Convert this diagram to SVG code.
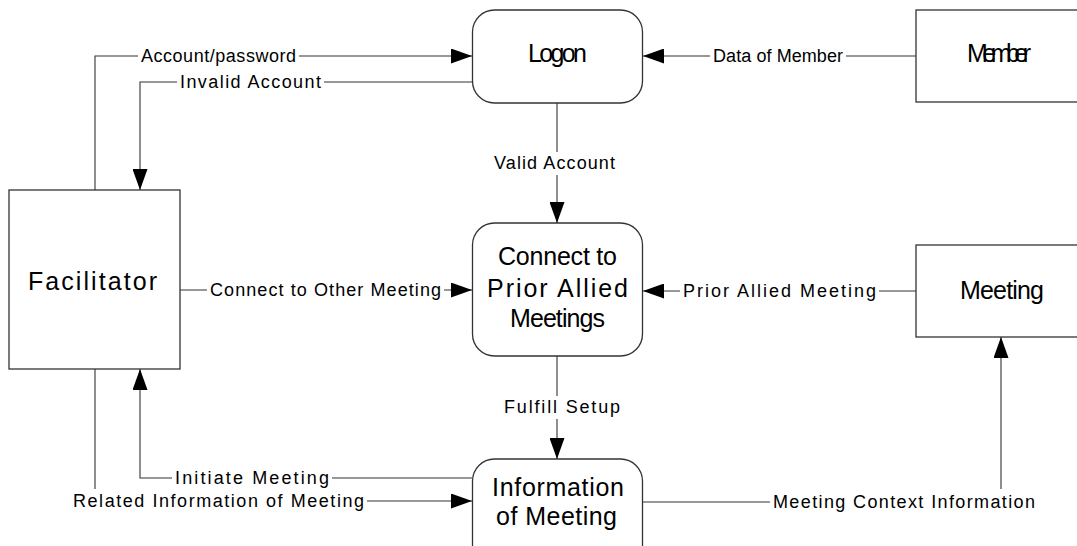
<svg xmlns="http://www.w3.org/2000/svg" width="1077" height="546" viewBox="0 0 1077 546">
<style>
.box{fill:#fff;stroke:#333;stroke-width:1.3}
.ln{fill:none;stroke:#333;stroke-width:1.1}
.lbl{font-family:"Liberation Sans",Arial,sans-serif;font-size:18px;fill:#000}
.nt{font-family:"Liberation Sans",Arial,sans-serif;font-size:25px;fill:#000}
.bg{fill:#fff}
</style>
<defs>
<marker id="ah" markerUnits="userSpaceOnUse" markerWidth="21" markerHeight="15" refX="21" refY="7.5" orient="auto">
<path d="M0,0 L21,7.5 L0,15 z" fill="#000"/>
</marker>
</defs>
<rect width="1077" height="546" fill="#fff"/>
<g id="connectors">
<path class="ln" d="M95,190 V56 H472" marker-end="url(#ah)"/>
<path class="ln" d="M472,82 H140 V190" marker-end="url(#ah)"/>
<path class="ln" d="M916,56 H643" marker-end="url(#ah)"/>
<path class="ln" d="M557,103 V223" marker-end="url(#ah)"/>
<path class="ln" d="M180,290 H472" marker-end="url(#ah)"/>
<path class="ln" d="M916,291 H643" marker-end="url(#ah)"/>
<path class="ln" d="M557,356 V459" marker-end="url(#ah)"/>
<path class="ln" d="M472,478 H140 V369" marker-end="url(#ah)"/>
<path class="ln" d="M95,369 V501 H472" marker-end="url(#ah)"/>
<path class="ln" d="M643,502 H1001 V337" marker-end="url(#ah)"/>
<rect class="bg" x="138" y="46" width="161" height="21"/>
<text class="lbl" x="141" y="62" textLength="155" lengthAdjust="spacing">Account/password</text>
<rect class="bg" x="177" y="72" width="147" height="21"/>
<text class="lbl" x="180" y="88" textLength="141" lengthAdjust="spacing">Invalid Account</text>
<rect class="bg" x="710" y="46" width="136" height="21"/>
<text class="lbl" x="713" y="62" textLength="130" lengthAdjust="spacing">Data of Member</text>
<rect class="bg" x="491" y="152" width="127" height="23"/>
<text class="lbl" x="494" y="169" textLength="121" lengthAdjust="spacing">Valid Account</text>
<rect class="bg" x="207" y="280" width="237" height="21"/>
<text class="lbl" x="210" y="296" textLength="231" lengthAdjust="spacing">Connect to Other Meeting</text>
<rect class="bg" x="680" y="281" width="199" height="21"/>
<text class="lbl" x="683" y="297" textLength="193" lengthAdjust="spacing">Prior Allied Meeting</text>
<rect class="bg" x="501" y="396" width="122" height="23"/>
<text class="lbl" x="504" y="413" textLength="116" lengthAdjust="spacing">Fulfill Setup</text>
<rect class="bg" x="172" y="468" width="160" height="21"/>
<text class="lbl" x="175" y="484" textLength="154" lengthAdjust="spacing">Initiate Meeting</text>
<rect class="bg" x="70" y="489" width="297" height="22"/>
<text class="lbl" x="73" y="507" textLength="291" lengthAdjust="spacing">Related Information of Meeting</text>
<rect class="bg" x="770" y="489" width="268" height="24"/>
<text class="lbl" x="773" y="508" textLength="262" lengthAdjust="spacing">Meeting Context Information</text>
</g>
<g id="logon">
<rect class="box" x="472.5" y="10" width="170" height="93" rx="22"/>
<text class="nt" x="528" y="62" textLength="59" lengthAdjust="spacing">Logon</text>
</g>
<g id="member">
<rect class="box" x="916" y="10" width="170" height="92"/>
<text class="nt" x="967" y="62" textLength="64" lengthAdjust="spacing">Member</text>
</g>
<g id="facilitator">
<rect class="box" x="9" y="190" width="171" height="179"/>
<text class="nt" x="28" y="290" textLength="129" lengthAdjust="spacing">Facilitator</text>
</g>
<g id="connect">
<rect class="box" x="472.5" y="223" width="170" height="133" rx="22"/>
<text class="nt" x="498" y="265" textLength="119" lengthAdjust="spacing">Connect to</text>
<text class="nt" x="487" y="297" textLength="141" lengthAdjust="spacing">Prior Allied</text>
<text class="nt" x="510" y="327" textLength="95" lengthAdjust="spacing">Meetings</text>
</g>
<g id="meeting">
<rect class="box" x="916" y="245" width="170" height="92"/>
<text class="nt" x="960" y="299" textLength="84" lengthAdjust="spacing">Meeting</text>
</g>
<g id="information">
<rect class="box" x="472.5" y="459" width="170" height="110" rx="22"/>
<text class="nt" x="492" y="496" textLength="132" lengthAdjust="spacing">Information</text>
<text class="nt" x="496" y="525" textLength="121" lengthAdjust="spacing">of Meeting</text>
</g>
</svg>
